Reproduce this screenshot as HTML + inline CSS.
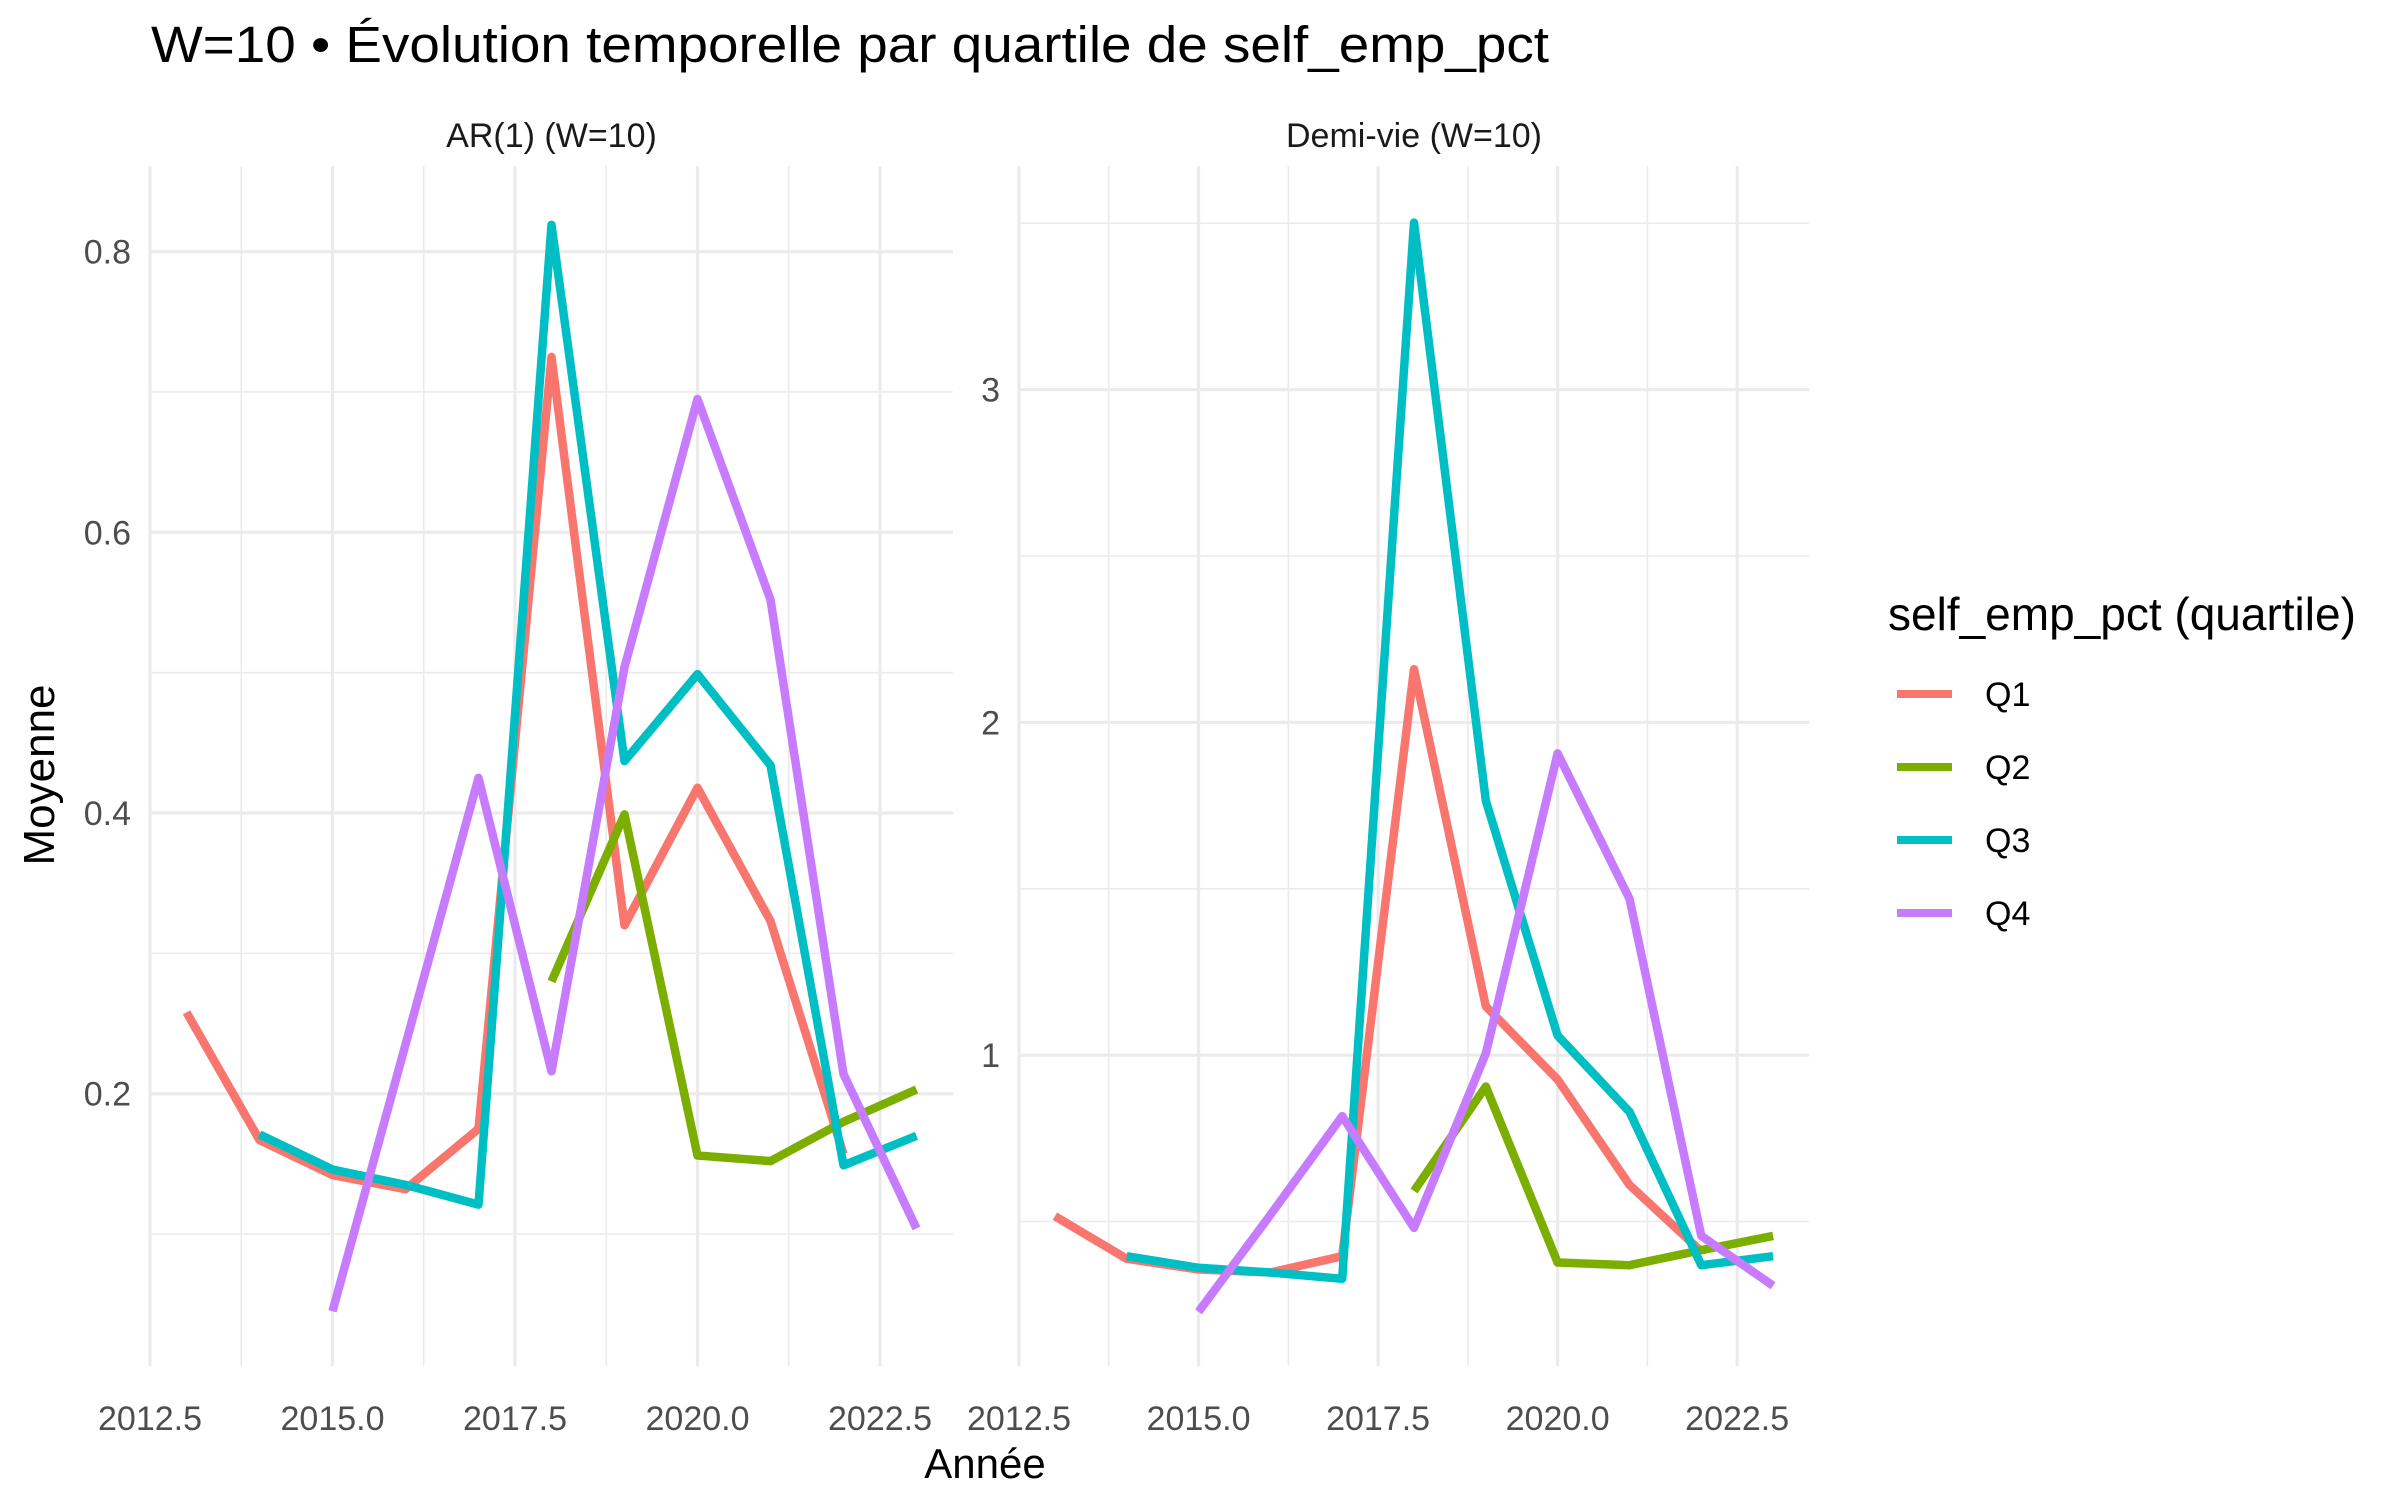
<!DOCTYPE html>
<html><head><meta charset="utf-8"><style>
html,body{margin:0;padding:0;background:#fff;}
svg{display:block;font-family:"Liberation Sans",sans-serif;}
</style></head><body>
<svg id="chart" width="2400" height="1500" viewBox="0 0 2400 1500">
<rect width="2400" height="1500" fill="#fff"/>
<text x="151" y="62" font-size="51" fill="#000" textLength="1398" lengthAdjust="spacingAndGlyphs">W=10 • Évolution temporelle par quartile de self_emp_pct</text>
<g id="p1"></g>
<g id="p2"></g>
<text x="985" y="1478" font-size="42" text-anchor="middle">Année</text>
<text transform="translate(54,775) rotate(-90)" font-size="44" text-anchor="middle">Moyenne</text>
<g id="legend">
<text x="1888" y="630" font-size="46" fill="#000">self_emp_pct (quartile)</text>
</g>
</svg>
<script>
const years = [2013,2014,2015,2016,2017,2018,2019,2020,2021,2022,2023];
const seriesNames = ["Q1","Q2","Q3","Q4"];
const colors = ["#F8766D","#7CAE00","#00BFC4","#C77CFF"];
const ar1Q1 = [0.258,0.167,0.142,0.132,0.175,0.725,0.320,0.418,0.323,0.157,null];
const ar1Q2 = [null,null,null,null,null,0.280,0.399,0.156,0.152,0.180,0.203];
const ar1Q3 = [null,0.171,0.146,0.135,0.121,0.819,0.437,0.499,0.434,0.149,0.170];
const ar1Q4 = [null,null,0.045,0.235,0.425,0.216,0.504,0.695,0.552,0.214,0.104];
const hlQ1 = [0.516,0.388,0.356,0.347,0.396,2.160,1.147,0.927,0.610,0.410,null];
const hlQ2 = [null,null,null,null,null,0.592,0.906,0.377,0.369,0.414,0.457];
const hlQ3 = [null,0.396,0.361,0.347,0.328,3.502,1.765,1.059,0.830,0.369,0.396];
const hlQ4 = [null,null,0.229,0.520,0.817,0.481,1.005,1.907,1.470,0.457,0.307];
const xTicks = [2012.5,2015.0,2017.5,2020.0,2022.5];
const xTickLabels = ["2012.5","2015.0","2017.5","2020.0","2022.5"];
const xMinor = [2013.75,2016.25,2018.75,2021.25];
const ar1Ticks = [0.2,0.4,0.6,0.8];
const ar1TickLabels = ["0.2","0.4","0.6","0.8"];
const ar1Minor = [0.1,0.3,0.5,0.7];
const hlTicks = [1,2,3];
const hlTickLabels = ["1","2","3"];
const hlMinor = [0.5,1.5,2.5,3.5];

const NS="http://www.w3.org/2000/svg";
function mk(tag,attrs,parent){const e=document.createElementNS(NS,tag);for(const k in attrs)e.setAttribute(k,attrs[k]);parent.appendChild(e);return e;}

function drawPanel(g,cfg){
  const x=v=>cfg.x0+(v-2012.5)/11*(cfg.x1-cfg.x0);
  const y=v=>cfg.yb-(v-cfg.vmin)/(cfg.vmax-cfg.vmin)*(cfg.yb-cfg.yt);
  cfg.yMinor.forEach(v=>{const l=mk('line',{x1:cfg.x0,x2:cfg.x1,y1:y(v),y2:y(v),stroke:'#EBEBEB','stroke-width':1.6},g);
    
    });
  xMinor.forEach(v=>{const l=mk('line',{x1:x(v),x2:x(v),y1:cfg.yt,y2:cfg.yb,stroke:'#EBEBEB','stroke-width':1.6},g);
    
    });
  cfg.yTicks.forEach((v,i)=>{const l=mk('line',{x1:cfg.x0,x2:cfg.x1,y1:y(v),y2:y(v),stroke:'#EBEBEB','stroke-width':3.2},g);
    
    
    const t=mk('text',{x:cfg.x0-19,y:y(v)+12,'font-size':34,fill:'#4D4D4D','text-anchor':'end'},g);
    t.textContent=cfg.yLabels[i];
    
    });
  xTicks.forEach((v,i)=>{const l=mk('line',{x1:x(v),x2:x(v),y1:cfg.yt,y2:cfg.yb,stroke:'#EBEBEB','stroke-width':3.2},g);
    
    
    const t=mk('text',{x:x(v),y:1430,'font-size':34,fill:'#4D4D4D','text-anchor':'middle'},g);
    t.textContent=xTickLabels[i];
    
    });
  const st=mk('text',{x:(cfg.x0+cfg.x1)/2,y:147,'font-size':34,fill:'#1A1A1A','text-anchor':'middle'},g);
  st.textContent=cfg.title;
  
  
  cfg.series.forEach((arr,si)=>{
    let d='';let pen=false;
    arr.forEach((v,i)=>{if(v==null){pen=false;return;}d+=(pen?'L':'M')+x(years[i]).toFixed(1)+','+y(v).toFixed(1);pen=true;});
    const p=mk('path',{d:d,fill:'none',stroke:colors[si],'stroke-width':8.5,'stroke-linejoin':'round'},g);
    
    
  });
}
drawPanel(document.getElementById('p1'),{x0:150,x1:953,yt:166,yb:1366,vmin:0.006,vmax:0.861,
  yTicks:ar1Ticks,yLabels:ar1TickLabels,yMinor:ar1Minor,title:'AR(1) (W=10)',series:[ar1Q1,ar1Q2,ar1Q3,ar1Q4]});
drawPanel(document.getElementById('p2'),{x0:1019,x1:1809,yt:166,yb:1366,vmin:0.066,vmax:3.672,
  yTicks:hlTicks,yLabels:hlTickLabels,yMinor:hlMinor,title:'Demi-vie (W=10)',series:[hlQ1,hlQ2,hlQ3,hlQ4]});
const lg=document.getElementById('legend');
seriesNames.forEach((n,i)=>{
  const yy=694+i*73;
  const l=mk('line',{x1:1897,x2:1952,y1:yy,y2:yy,stroke:colors[i],'stroke-width':8},lg);
  
  
  const t=mk('text',{x:1985,y:yy+12,'font-size':34,fill:'#000'},lg);
  t.textContent=n;
  
  
});
</script>
</body></html>
